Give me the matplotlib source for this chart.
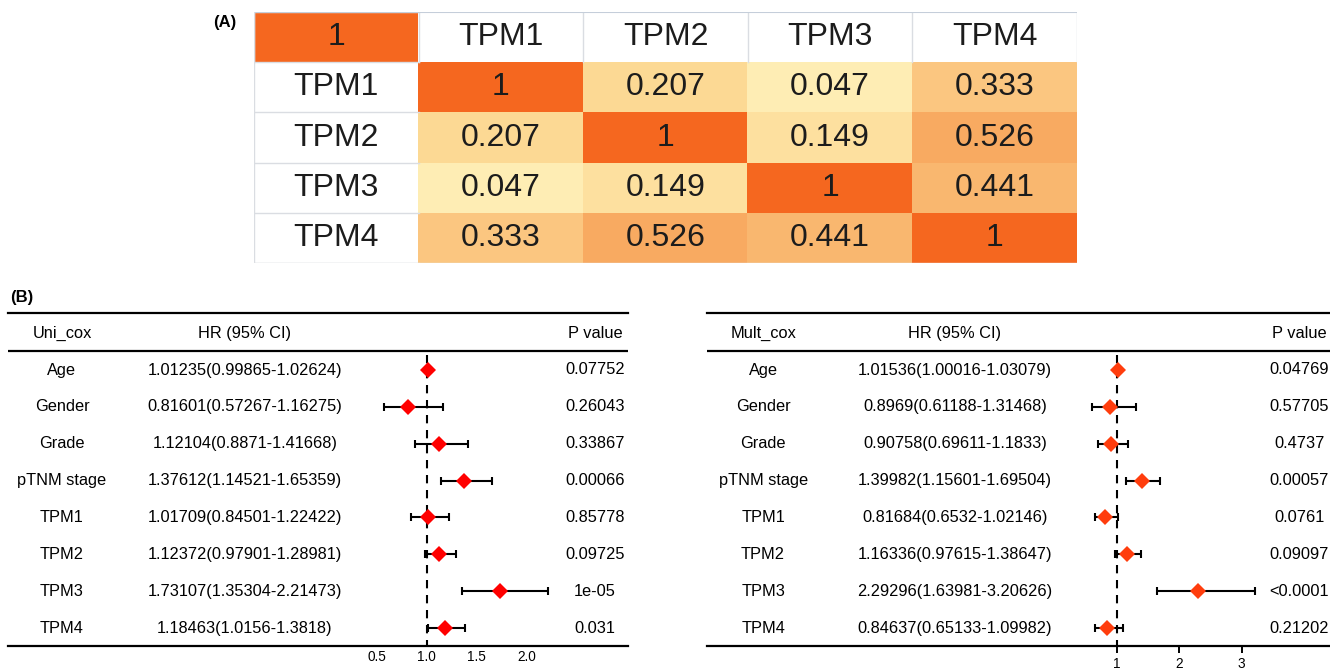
import matplotlib
matplotlib.use("Agg")
import matplotlib.pyplot as plt
import numpy as np
from matplotlib.colors import LinearSegmentedColormap
from matplotlib.transforms import blended_transform_factory

plt.rcParams["font.family"] = ["Liberation Sans", "DejaVu Sans"]

# ---- data -------------------------------------------------------------
genes = ["TPM1", "TPM2", "TPM3", "TPM4"]
corr = [
    [1.0, 0.207, 0.047, 0.333],
    [0.207, 1.0, 0.149, 0.526],
    [0.047, 0.149, 1.0, 0.441],
    [0.333, 0.526, 0.441, 1.0],
]

rows = ["Age", "Gender", "Grade", "pTNM stage", "TPM1", "TPM2", "TPM3", "TPM4"]

uni_hr = [1.01235, 0.81601, 1.12104, 1.37612, 1.01709, 1.12372, 1.73107, 1.18463]
uni_lo = [0.99865, 0.57267, 0.8871, 1.14521, 0.84501, 0.97901, 1.35304, 1.0156]
uni_hi = [1.02624, 1.16275, 1.41668, 1.65359, 1.22422, 1.28981, 2.21473, 1.3818]
uni_p = ["0.07752", "0.26043", "0.33867", "0.00066", "0.85778", "0.09725", "1e-05", "0.031"]
uni_ticks = [0.5, 1.0, 1.5, 2.0]
uni_ticklabels = ["0.5", "1.0", "1.5", "2.0"]

mult_hr = [1.01536, 0.8969, 0.90758, 1.39982, 0.81684, 1.16336, 2.29296, 0.84637]
mult_lo = [1.00016, 0.61188, 0.69611, 1.15601, 0.6532, 0.97615, 1.63981, 0.65133]
mult_hi = [1.03079, 1.31468, 1.1833, 1.69504, 1.02146, 1.38647, 3.20626, 1.09982]
mult_p = ["0.04769", "0.57705", "0.4737", "0.00057", "0.0761", "0.09097", "<0.0001", "0.21202"]
mult_ticks = [1, 2, 3]
mult_ticklabels = ["1", "2", "3"]

W, H = 1330, 671
fig = plt.figure(figsize=(W / 100, H / 100), dpi=100)


def px_axes(x0, y0, x1, y1):
    """Axes placed by pixel box (origin top-left)."""
    return fig.add_axes([x0 / W, 1 - y1 / H, (x1 - x0) / W, (y1 - y0) / H])


# ---- (A) correlation table ---------------------------------------------
cmap = LinearSegmentedColormap.from_list(
    "corr", [(0, "#FFF4BE"), (0.2, "#FDDA95"), (0.55, "#F8A75E"), (1.0, "#F5671F")])

n = len(genes) + 1
cells = np.ones((n, n, 4))
cells[0, 0] = cmap(1.0)
for i in range(len(genes)):
    for j in range(len(genes)):
        cells[i + 1, j + 1] = cmap(float(corr[i][j]))

axA = px_axes(254, 12, 1077, 263)
axA.imshow(cells, aspect="auto", extent=(-0.5, n - 0.5, n - 0.5, -0.5), interpolation="nearest")
axA.set_xlim(-0.5, n - 0.5)
axA.set_ylim(n - 0.5, -0.5)
axA.axis("off")

grid_c = "#DADDE2"
for k in range(n + 1):
    axA.plot([k - 0.5, k - 0.5], [-0.5, 0.5], color=grid_c, lw=1)
    axA.plot([-0.5, 0.5], [k - 0.5, k - 0.5], color=grid_c, lw=1)
axA.plot([-0.5, n - 0.5], [-0.5, -0.5], color="#C5CEDA", lw=1.5)
axA.plot([-0.5, -0.5], [-0.5, n - 0.5], color=grid_c, lw=1)
axA.plot([-0.5, n - 0.5], [n - 0.5, n - 0.5], color="#E6E6E6", lw=1)

big = dict(fontsize=23, color="#1c1c1c", ha="center", va="center")
axA.text(0, 0, "1", **big)
for k, g in enumerate(genes):
    axA.text(k + 1, 0, g, **big)
    axA.text(0, k + 1, g, **big)
for i in range(len(genes)):
    for j in range(len(genes)):
        v = corr[i][j]
        axA.text(j + 1, i + 1, "1" if v == 1 else f"{v:.3f}", **big)

fig.text(225 / W, 1 - 22 / H, "(A)", fontsize=12, fontweight="bold", ha="center", va="center")
fig.text(10 / W, 1 - 297 / H, "(B)", fontsize=12, fontweight="bold", ha="left", va="center")


# ---- (B) forest tables -------------------------------------------------
def forest(box, one_px, unit_px, title, hr, lo, hi, pvals, ticks, ticklabels,
           mcolor, cols, tick_len):
    x0, y0, x1, y1 = box
    ax = px_axes(x0, y0, x1, y1)
    ax.set_xlim(1 - (one_px - x0) / unit_px, 1 + (x1 - one_px) / unit_px)
    row_px = 36.86
    top = (y0 - 370) / row_px
    bot = (y1 - 370) / row_px
    ax.set_ylim(bot, top)
    for s in ["left", "right"]:
        ax.spines[s].set_visible(False)
    for s in ["top", "bottom"]:
        ax.spines[s].set_linewidth(1.6)
    ax.set_yticks([])
    ax.set_xticks(ticks)
    ax.set_xticklabels(ticklabels, fontsize=9.8)
    ax.tick_params(axis="x", length=tick_len, width=1.4, pad=3)

    y = np.arange(len(hr))
    ax.axhline(-0.515, color="black", lw=1.6)
    ax.vlines(1, -0.4, bot, colors="black", lw=1.5, linestyles=(0, (4, 3.2)))
    hr_a = np.array(hr)
    err = [hr_a - np.array(lo), np.array(hi) - hr_a]
    ax.errorbar(hr, y, xerr=err, fmt="none", ecolor="black", elinewidth=1.5,
                capsize=2.8, capthick=1.5, zorder=3)
    ax.plot(hr, y, "D", color=mcolor, markersize=8.5, markeredgewidth=0, zorder=4)

    tr = blended_transform_factory(ax.transAxes, ax.transData)
    fs = 11.8
    ax.text(cols[0], -1, title, transform=tr, ha="center", va="center", fontsize=fs)
    ax.text(cols[1], -1, "HR (95% CI)", transform=tr, ha="center", va="center", fontsize=fs)
    ax.text(cols[2], -1, "P value", transform=tr, ha="center", va="center", fontsize=fs)
    for k, name in enumerate(rows):
        ax.text(cols[0], k, name, transform=tr, ha="center", va="center", fontsize=fs)
        ax.text(cols[1], k, f"{hr[k]}({lo[k]}-{hi[k]})", transform=tr,
                ha="center", va="center", fontsize=fs)
        ax.text(cols[2], k, pvals[k], transform=tr, ha="center", va="center", fontsize=fs)
    return ax


forest((8, 313, 628, 646), 426.7, 100.0, "Uni_cox", uni_hr, uni_lo, uni_hi, uni_p,
       uni_ticks, uni_ticklabels, "#FF0000", (0.087, 0.382, 0.947), 0)
forest((707, 313, 1330, 646), 1116.7, 62.5, "Mult_cox", mult_hr, mult_lo, mult_hi, mult_p,
       mult_ticks, mult_ticklabels, "#FF3D0D", (0.09, 0.398, 0.951), 5)

fig.savefig("out.png", dpi=100)
